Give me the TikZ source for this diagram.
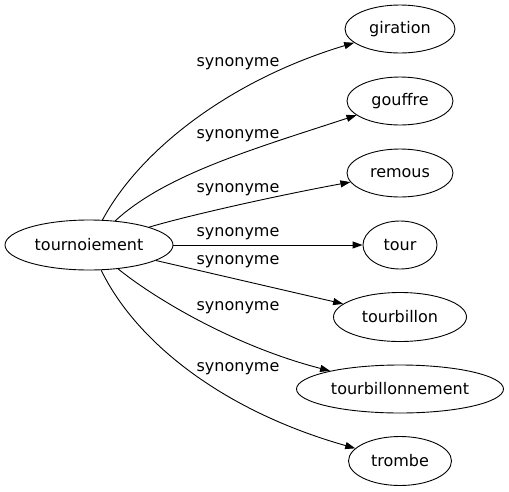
\documentclass[tikz,border=0pt]{standalone}
\usepackage{fontspec}
\setmainfont{DejaVu Sans}
\usetikzlibrary{shapes.geometric,arrows.meta}
\begin{document}
\begin{tikzpicture}[x=1pt,y=-1pt,
  every node/.style={font=\fontsize{16}{19}\selectfont},
  term/.style={draw,ellipse,inner sep=0pt,line width=0.9pt},
  lbl/.style={inner sep=0pt},
  rel/.style={line width=0.9pt,-{Triangle[length=10pt,width=7pt]}}]
\useasboundingbox (0,0) rectangle (509,491);
\node[term,minimum width=168pt,minimum height=50pt] (src) at (89,245) {tournoiement};
\node[term,minimum width=110pt,minimum height=48pt] (giration) at (400,29) {giration};
\node[term,minimum width=106pt,minimum height=48pt] (gouffre) at (400,101) {gouffre};
\node[term,minimum width=106pt,minimum height=48pt] (remous) at (400,173) {remous};
\node[term,minimum width=74pt,minimum height=48pt] (tour) at (400,245) {tour};
\node[term,minimum width=133pt,minimum height=49pt] (tourbillon) at (400,317) {tourbillon};
\node[term,minimum width=207pt,minimum height=48pt] (tourbillonnement) at (400,389) {tourbillonnement};
\node[term,minimum width=103pt,minimum height=49pt] (trombe) at (400,461) {trombe};
\node[lbl] (l1) at (238,64) {synonyme};
\node[lbl] (l2) at (238,136) {synonyme};
\node[lbl] (l3) at (238,190) {synonyme};
\node[lbl] (l4) at (238,234) {synonyme};
\node[lbl] (l5) at (238,262) {synonyme};
\node[lbl] (l6) at (238,308) {synonyme};
\node[lbl] (l7) at (238,369) {synonyme};
\draw[rel] (src) .. controls (140,150) and (230,80) .. (giration);
\draw[rel] (src) .. controls (165,175) and (250,150) .. (gouffre);
\draw[rel] (src) .. controls (190,215) and (280,195) .. (remous);
\draw[rel] (src) -- (tour);
\draw[rel] (src) -- (tourbillon);
\draw[rel] (src) .. controls (150,295) and (230,345) .. (tourbillonnement);
\draw[rel] (src) .. controls (135,340) and (220,410) .. (trombe);
\end{tikzpicture}
\end{document}
